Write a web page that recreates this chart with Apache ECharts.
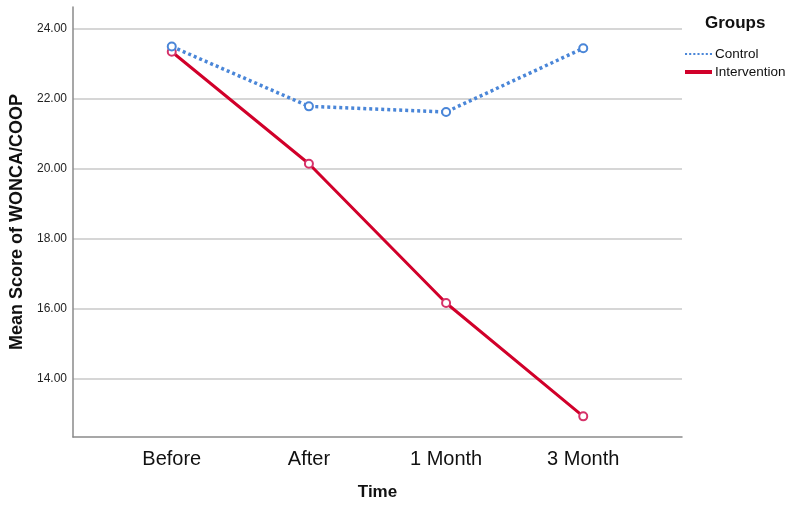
<!DOCTYPE html>
<html>
<head>
<meta charset="utf-8">
<script src="https://cdn.jsdelivr.net/npm/echarts@6/dist/echarts.min.js"></script>
<style>html,body{margin:0;padding:0;background:#fff}#c{width:791px;height:506px}</style>
</head>
<body>
<div id="c"></div>
<script>
var categories = ['Before', 'After', '1 Month', '3 Month'];
var controlValues = [23.50, 21.79, 21.63, 23.45];
var interventionValues = [23.35, 20.15, 16.17, 12.93];
var yTicks = [14, 16, 18, 20, 22, 24];
var xTicks = [0, 1, 2, 3];

function pairs(vals) { return vals.map(function (v, i) { return [i, v]; }); }

var chart = echarts.init(document.getElementById('c'));
var font = 'Arial, "Liberation Sans", sans-serif';
chart.setOption({
  animation: false,
  textStyle: { fontFamily: font },
  title: {
    text: 'Groups', left: 700, top: 10,
    textStyle: { fontSize: 17, fontWeight: 'bold', color: '#111', fontFamily: font }
  },
  legend: {
    orient: 'vertical', left: 680, top: 42, itemGap: 4,
    itemWidth: 27, itemHeight: 4,
    textStyle: { fontSize: 13.5, color: '#111', padding: [0, 0, 0, -2] },
    data: [
      { name: 'Control', icon: 'path://M0,0h2v2h-2z M4,0h2v2h-2z M8,0h2v2h-2z M12,0h2v2h-2z M16,0h2v2h-2z M20,0h2v2h-2z M24,0h2v2h-2z', itemStyle: { color: '#4a86d8' } },
      { name: 'Intervention', icon: 'rect', itemStyle: { color: '#d1002a' } }
    ]
  },
  grid: { left: 73, right: 109, top: 7, bottom: 67 },
  xAxis: {
    type: 'value', min: -0.72, max: 3.72,
    name: 'Time', nameLocation: 'middle', nameGap: 47,
    nameTextStyle: { fontSize: 17, fontWeight: 'bold', color: '#111' },
    axisLine: { show: true, onZero: false, lineStyle: { color: '#8a8a8a', width: 1.5 } },
    axisTick: { show: false, customValues: xTicks },
    splitLine: { show: false },
    axisLabel: {
      customValues: xTicks, fontSize: 20, color: '#111', margin: 12,
      formatter: function (v) { return categories[Math.round(v)]; }
    }
  },
  yAxis: {
    type: 'value', min: 12.34, max: 24.63,
    name: 'Mean Score of WONCA/COOP', nameLocation: 'middle', nameGap: 47,
    nameTextStyle: { fontSize: 18, fontWeight: 'bold', color: '#111' },
    axisLine: { show: true, onZero: false, lineStyle: { color: '#8a8a8a', width: 1.5 } },
    axisTick: { show: false, customValues: yTicks },
    splitLine: { show: true, lineStyle: { color: '#c8c8c8', width: 1.5 } },
    axisLabel: {
      customValues: yTicks, fontSize: 12, color: '#222', margin: 6,
      formatter: function (v) { return v.toFixed(2); }
    }
  },
  series: [
    {
      name: 'Control', type: 'line', data: pairs(controlValues),
      symbol: 'emptyCircle', symbolSize: 8,
      lineStyle: { color: '#4a86d8', width: 3.5, type: [3, 3] },
      itemStyle: { color: '#4a86d8', borderWidth: 1 }, z: 3
    },
    {
      name: 'Intervention', type: 'line', data: pairs(interventionValues),
      symbol: 'emptyCircle', symbolSize: 8,
      lineStyle: { color: '#d1002a', width: 3 },
      itemStyle: { color: '#d6336a', borderWidth: 1 }, z: 2
    }
  ]
});
</script>
</body>
</html>
